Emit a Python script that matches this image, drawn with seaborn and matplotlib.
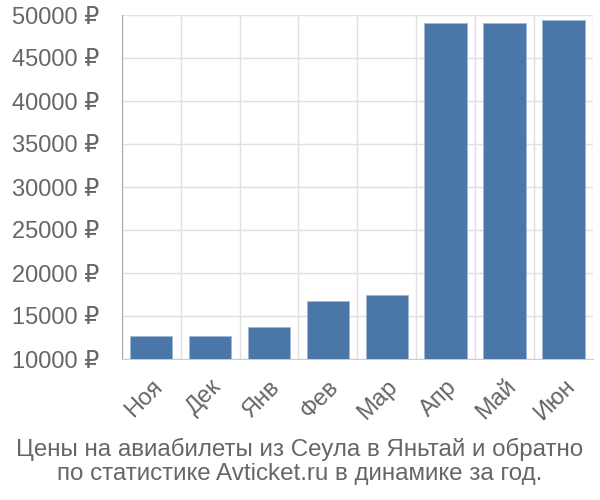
import numpy as np
import pandas as pd
import matplotlib
matplotlib.use("Agg")
import matplotlib.pyplot as plt
from matplotlib.ticker import FuncFormatter, FixedLocator
import seaborn as sns

months = ["Ноя", "Дек", "Янв", "Фев", "Мар", "Апр", "Май", "Июн"]
prices = [12700, 12700, 13700, 16800, 17500, 49100, 49100, 49450]
yticks = [10000, 15000, 20000, 25000, 30000, 35000, 40000, 45000, 50000]
title = "Цены на авиабилеты из Сеула в Яньтай и обратно\nпо статистике Avticket.ru в динамике за год."

sns.set_style("white")
plt.rcParams["font.family"] = ["Liberation Sans", "DejaVu Sans"]

df = pd.DataFrame({"month": months, "price": prices})

fig = plt.figure(figsize=(6, 5), dpi=100)
ax = fig.add_axes([0.203, 0.282, 0.785, 0.688])

sns.barplot(data=df, x="month", y="price", color="#4a76a8", saturation=1,
            width=0.72, edgecolor="#9fb8d6", linewidth=0.6, ax=ax, zorder=3)

ax.set_ylim(10000, 50000)
ax.set_xlim(-0.5, len(months) - 0.5)
ax.yaxis.set_major_locator(FixedLocator(yticks))
ax.yaxis.set_major_formatter(FuncFormatter(lambda v, p: f"{int(v)} ₽"))
ax.xaxis.set_minor_locator(FixedLocator(np.arange(-0.5, len(months), 1)))

ax.grid(axis="y", which="major", color="#e0e0e0", linewidth=1, zorder=0)
ax.grid(axis="x", which="minor", color="#e0e0e0", linewidth=1, zorder=0)
ax.set_axisbelow(True)

for s in ["top", "right"]:
    ax.spines[s].set_visible(False)
ax.spines["left"].set_color("#aaaaaa")
ax.spines["bottom"].set_color("#cccccc")

ax.tick_params(axis="y", which="major", length=14, width=1, color="#e0e0e0",
               labelsize=17, labelcolor="#666666", pad=2)
ax.tick_params(axis="x", which="major", length=0, labelsize=17,
               labelcolor="#666666", pad=12)
ax.tick_params(axis="x", which="minor", length=13, width=1, color="#e0e0e0")

for lab in ax.get_xticklabels():
    lab.set_rotation(45)
    lab.set_ha("right")
    lab.set_va("top")
    lab.set_rotation_mode("anchor")

ax.set_xlabel("")
ax.set_ylabel("")

fig.text(0.5, 0.077, title, ha="center", va="center", fontsize=17.4,
         color="#666666", linespacing=1.13)

fig.savefig("out.png", dpi=100)
